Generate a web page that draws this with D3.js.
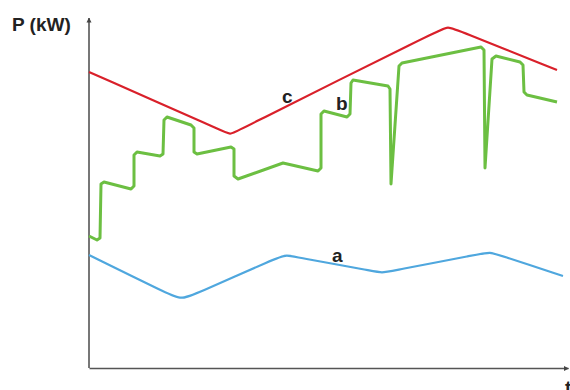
<!DOCTYPE html>
<html>
<head>
<meta charset="utf-8">
<script src="https://cdn.jsdelivr.net/npm/d3@7"></script>
<style>
  body { margin: 0; background: #fff; }
  svg { display: block; font-family: "Liberation Sans", Arial, sans-serif; }
</style>
</head>
<body>
<div id="chart"></div>
<script>
// values (t, P in arbitrary units)
var seriesA = [[0,113],[0,113],[79,74],[91,69],[103,72],[189,111],[198,113],[206,111],[284,97],[293,95],[302,97],[391,114],[401,116],[410,113],[474,92],[474,92]];
var seriesC = [[0,296],[0,296],[134,237],[141,233],[148,237],[352,339],[359,341],[366,339],[468,298],[468,298]];
var seriesB = [[0,132],[8,128],[11,130],[12,184],[15,186],[42,179],[45,182],[45,213],[48,216],[71,212],[74,214],[75,248],[78,251],[102,243],[105,240],[105,216],[108,214],[142,221],[145,219],[145,192],[149,189],[194,205],[229,197],[232,200],[232,254],[235,257],[258,251],[261,254],[262,285],[264,288],[299,282],[301,279],[302,184],[310,302],[313,305],[392,321],[395,318],[396,200],[403,309],[407,312],[431,306],[434,303],[435,276],[438,273],[468,266]];
var labels = [{text: "a", t: 243, P: 106}, {text: "b", t: 247, P: 258}, {text: "c", t: 193, P: 265}];
var axisTitles = {y: "P (kW)", x: "t"};

var width = 570, height = 390;
var svg = d3.select("#chart").append("svg").attr("width", width).attr("height", height);

var x = d3.scaleLinear().domain([0, 479]).range([89, 568]);
var y = d3.scaleLinear().domain([0, 350]).range([368, 18]);

var defs = svg.append("defs");
defs.append("marker")
    .attr("id", "arrow")
    .attr("viewBox", "0 0 10 10")
    .attr("refX", 9).attr("refY", 5)
    .attr("markerWidth", 5).attr("markerHeight", 6)
    .attr("markerUnits", "userSpaceOnUse")
    .attr("orient", "auto")
    .append("path").attr("d", "M0,0L10,5L0,10z").attr("fill", "#444");

var line = d3.line()
    .x(function(d) { return x(d[0]); })
    .y(function(d) { return y(d[1]); });
var smooth = d3.line()
    .curve(d3.curveBasis)
    .x(function(d) { return x(d[0]); })
    .y(function(d) { return y(d[1]); });

// axes without ticks
var xAxis = svg.append("g").attr("transform", "translate(0," + y(0) + ")")
    .call(d3.axisBottom(x).tickValues([]).tickSizeOuter(0));
var yAxis = svg.append("g").attr("transform", "translate(" + x(0) + ",0)")
    .call(d3.axisLeft(y).tickValues([]).tickSizeOuter(0));
[xAxis, yAxis].forEach(function(g) {
    g.select(".domain").attr("stroke", "#555").attr("stroke-width", 1.6).attr("marker-end", "url(#arrow)");
});
// domain path is drawn from low to high value, so the marker lands on the far end
yAxis.select(".domain").attr("d", "M0," + y(0) + "V" + y(350));

svg.append("path").datum(seriesA)
    .attr("d", smooth).attr("fill", "none")
    .attr("stroke", "#4fa7de").attr("stroke-width", 2.2);

svg.append("path").datum(seriesC)
    .attr("d", smooth).attr("fill", "none")
    .attr("stroke", "#d9202a").attr("stroke-width", 2.2);

svg.append("path").datum(seriesB)
    .attr("d", line).attr("fill", "none")
    .attr("stroke", "#6cbf42").attr("stroke-width", 3)
    .attr("stroke-linejoin", "round").attr("stroke-linecap", "butt");

svg.selectAll(".lbl").data(labels).enter().append("text")
    .attr("class", "lbl")
    .attr("x", function(d) { return x(d.t); })
    .attr("y", function(d) { return y(d.P); })
    .attr("font-size", 19).attr("font-weight", "bold").attr("fill", "#222")
    .text(function(d) { return d.text; });

svg.append("text").attr("x", 12).attr("y", 31)
    .attr("font-size", 19).attr("font-weight", "bold").attr("fill", "#222")
    .text(axisTitles.y);

svg.append("text").attr("x", 565).attr("y", 394)
    .attr("font-size", 19).attr("font-weight", "bold").attr("fill", "#222")
    .text(axisTitles.x);
</script>
</body>
</html>
